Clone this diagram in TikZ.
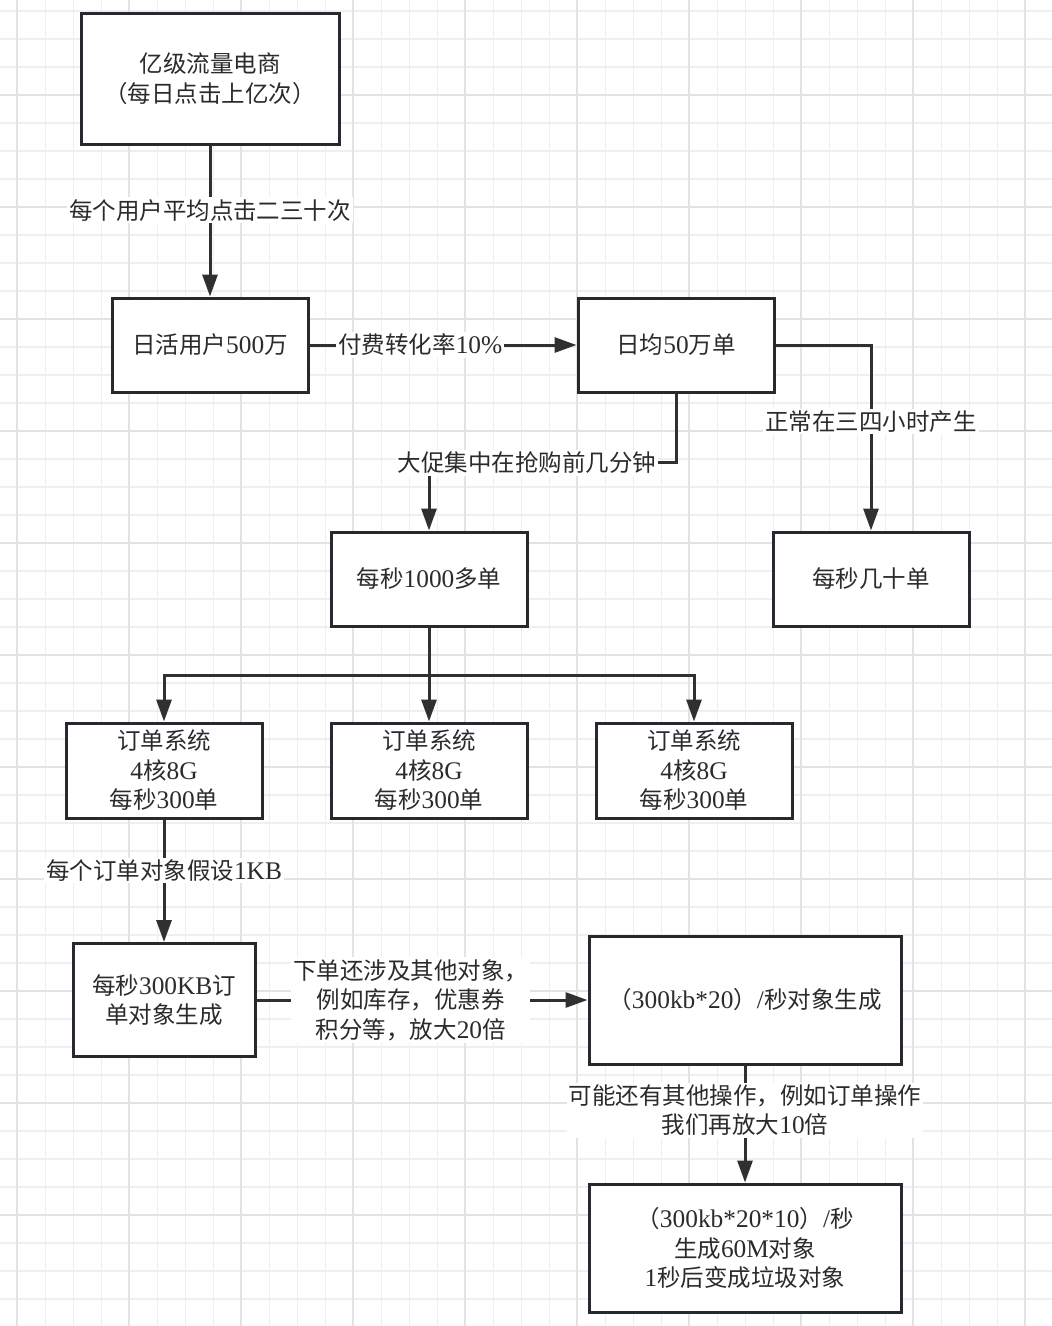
\documentclass[tikz,border=0pt]{standalone}
\usepackage{fontspec}
\setmainfont{Noto Sans CJK SC}
\newfontfamily\lat[Scale=1.08]{Liberation Serif}
\usetikzlibrary{arrows.meta}
\definecolor{gridminor}{HTML}{EFEFEF}
\definecolor{gridmajor}{HTML}{E3E3E3}
\definecolor{edgec}{HTML}{262A2E}
\definecolor{connc}{HTML}{303030}
\definecolor{txtc}{HTML}{2B2B2B}
\newcommand\La[1]{{\lat #1}}
\begin{document}
\begin{tikzpicture}[x=1pt,y=-1pt,
  box/.style={draw=edgec, line width=3pt, fill=white, inner sep=0pt, align=center,
    text=txtc, font=\fontsize{23.5}{29.5}\selectfont, minimum width=196pt, minimum height=94pt},
  link/.style={draw=connc, line width=3pt},
  arr/.style={link, -{Triangle[length=22pt,width=15pt]}},
  lbl/.style={fill=white, text=txtc, align=center, inner sep=2pt,
    font=\fontsize{23.5}{29.5}\selectfont}]
\fill[white] (0,0) rectangle (1052,1326);
\useasboundingbox (0,0) rectangle (1052,1326);
% grid
\foreach \i in {0,...,37} \draw[gridminor, line width=1.6pt] (17.3+28*\i,0) -- (17.3+28*\i,1326);
\foreach \j in {0,...,46} \draw[gridminor, line width=1.6pt] (0,11+28*\j) -- (1052,11+28*\j);
\foreach \i in {0,4,...,36} \draw[gridmajor, line width=1.8pt] (17.3+28*\i,0) -- (17.3+28*\i,1326);
\foreach \j in {3,7,...,43} \draw[gridmajor, line width=1.8pt] (0,11+28*\j) -- (1052,11+28*\j);

% boxes
\node[box, minimum width=258pt, minimum height=131pt] (b1) at (210,78.5) {亿级流量电商\\（每日点击上亿次）};
\node[box] (b2) at (210,345) {日活用户\La{500}万};
\node[box] (b3) at (676,345) {日均\La{50}万单};
\node[box] (b4) at (429,579) {每秒\La{1000}多单};
\node[box] (b5) at (871,579) {每秒几十单};
\node[box, minimum height=95pt] (b6) at (164,770.5) {订单系统\\\La{4}核\La{8G}\\每秒\La{300}单};
\node[box, minimum height=95pt] (b7) at (429,770.5) {订单系统\\\La{4}核\La{8G}\\每秒\La{300}单};
\node[box, minimum height=95pt] (b8) at (694,770.5) {订单系统\\\La{4}核\La{8G}\\每秒\La{300}单};
\node[box, minimum width=182pt, minimum height=113pt] (b9) at (164,1000) {每秒\La{300KB}订\\单对象生成};
\node[box, minimum width=312pt, minimum height=128pt] (b10) at (745,1000) {（\La{300kb*20}）\La{/}秒对象生成};
\node[box, minimum width=312pt, minimum height=128pt] (b11) at (745,1248) {（\La{300kb*20*10}）\La{/}秒\\生成\La{60M}对象\\\La{1}秒后变成垃圾对象};

% connector helpers
\coordinate (c1) at (676,462);
\coordinate (c2) at (429,462);
\coordinate (bus) at (429,675);

% connectors
\draw[arr] (b1.south) -- (b2.north) node[lbl, pos=0.43] {每个用户平均点击二三十次};
\draw[arr] (b2.east) -- (b3.west) node[lbl, pos=0.415] {付费转化率\La{10\%}};
\draw[arr] (b3.south) -- (c1) -- (c2) -- (b4.north);
\node[lbl] (l3) at (527,463) {大促集中在抢购前几分钟};
\draw[arr] (b3.east) -| (b5.north) node[lbl, pos=0.706] {正常在三四小时产生};
\draw[link] (b4.south) -- (bus);
\draw[arr] (bus) -| (b6.north);
\draw[arr] (bus) -- (b7.north);
\draw[arr] (bus) -| (b8.north);
\draw[arr] (b6.south) -- (b9.north) node[lbl, pos=0.416] {每个订单对象假设\La{1KB}};
\draw[arr] (b9.east) -- (b10.west) node[lbl, pos=0.466] {下单还涉及其他对象，\\例如库存，优惠券\\积分等，放大\La{20}倍};
\draw[arr] (b10.south) -- (b11.north) node[lbl, pos=0.383] {可能还有其他操作，例如订单操作\\我们再放大\La{10}倍};
\end{tikzpicture}
\end{document}
